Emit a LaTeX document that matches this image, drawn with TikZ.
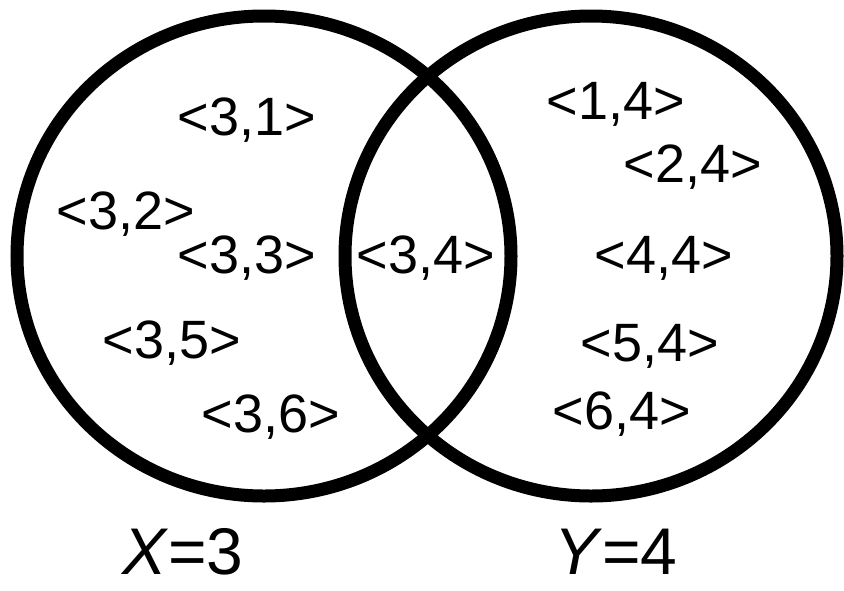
\documentclass[tikz,border=0pt]{standalone}
\usepackage{fontspec}
\setmainfont{Liberation Sans}
\usepackage{tikz}
\usetikzlibrary{positioning}

\begin{document}
\begin{tikzpicture}[
  x=1pt, y=-1pt,
  every node/.style={inner sep=0pt, font=\fontsize{54}{60}\selectfont},
  setline/.style={draw=black, line width=13pt},
  elem/.style={anchor=center},
  setlabel/.style={font=\fontsize{66}{74}\selectfont},
]
\useasboundingbox (0,0) rectangle (844,590);
% the two sets
\draw[setline] (264,256) ellipse [x radius=247pt, y radius=240pt];
\draw[setline] (591,256) ellipse [x radius=246pt, y radius=240pt];
% X only
\node[elem] (e31) at (247,120) {<3,1>};
\node[elem] (e32) at (126,214) {<3,2>};
\node[elem] (e33) at (247,258) {<3,3>};
\node[elem] (e35) at (172,343) {<3,5>};
\node[elem] (e36) at (271,417) {<3,6>};
% both
\node[elem] (e34) at (426,258) {<3,4>};
% Y only
\node[elem] (e14) at (616,104) {<1,4>};
\node[elem] (e24) at (693,167) {<2,4>};
\node[elem] (e44) at (664,258) {<4,4>};
\node[elem] (e54) at (650,346) {<5,4>};
\node[elem] (e64) at (622,414) {<6,4>};
% set names
\node[setlabel] (xlab) at (183,552) {\textit{X}=3};
\node[setlabel] (ylab) at (616,552) {\textit{Y}=4};
\end{tikzpicture}
\end{document}
